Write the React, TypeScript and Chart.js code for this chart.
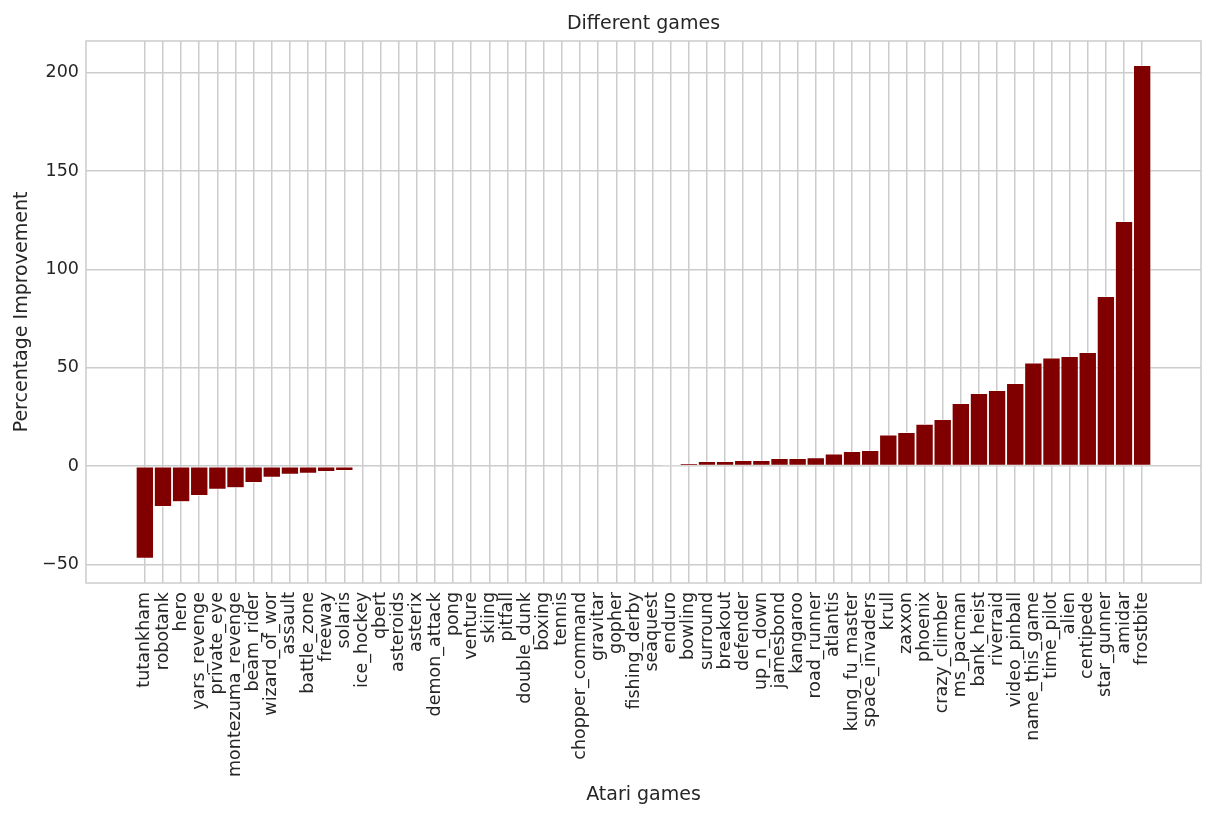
import { useEffect, useRef } from "react";
import { Chart, registerables } from "chart.js";
import type { Plugin } from "chart.js";

Chart.register(...registerables);

const games = [
    "tutankham", "robotank", "hero", "yars_revenge", "private_eye", "montezuma_revenge",
    "beam_rider", "wizard_of_wor", "assault", "battle_zone", "freeway", "solaris",
    "ice_hockey", "qbert", "asteroids", "asterix", "demon_attack", "pong", "venture",
    "skiing", "pitfall", "double_dunk", "boxing", "tennis", "chopper_command", "gravitar",
    "gopher", "fishing_derby", "seaquest", "enduro", "bowling", "surround", "breakout",
    "defender", "up_n_down", "jamesbond", "kangaroo", "road_runner", "atlantis",
    "kung_fu_master", "space_invaders", "krull", "zaxxon", "phoenix", "crazy_climber",
    "ms_pacman", "bank_heist", "riverraid", "video_pinball", "name_this_game", "time_pilot",
    "alien", "centipede", "star_gunner", "amidar", "frostbite",
];

const improvement = [
    -46.9, -20.6, -18.1, -15.0, -11.8, -11.0, -8.4, -5.7, -4.2, -3.7, -2.7, -2.2, -0.6,
    0, 0, 0, 0, 0, 0, 0, 0, 0, 0, 0, 0, 0, 0, 0, 0,
    0.6, 1.4, 2.4, 2.4, 2.9, 2.9, 3.9, 3.9, 4.4, 6.3, 7.5, 8.0, 15.9, 17.2, 21.4, 23.8,
    31.9, 37.0, 38.5, 42.1, 52.5, 55.1, 55.8, 57.8, 86.3, 124.5, 203.8,
];

const yTicks = [-50, 0, 50, 100, 150, 200];
const chartTitle = "Different games";

const textColor = "#262626";
const gridColor = "#cccccc";
const family = "DejaVu Sans";

// light grey box round the plot area (seaborn spines) + title centred on the axes
const frame: Plugin<"bar"> = {
    id: "frame",
    afterDatasetsDraw(chart) {
        const { ctx, chartArea: a } = chart;
        ctx.save();
        ctx.strokeStyle = gridColor;
        ctx.lineWidth = 1.5;
        ctx.strokeRect(a.left, a.top, a.right - a.left, a.bottom - a.top);
        ctx.fillStyle = textColor;
        ctx.font = `19px "${family}"`;
        ctx.textAlign = "center";
        ctx.textBaseline = "alphabetic";
        ctx.fillText(chartTitle, (a.left + a.right) / 2, 28.5);
        ctx.restore();
    },
};

export default function App() {
    const canvasRef = useRef<HTMLCanvasElement | null>(null);
    const chartRef = useRef<Chart | null>(null);

    useEffect(() => {
        document.body.style.margin = "0";
        if (!canvasRef.current) return;

        chartRef.current = new Chart(canvasRef.current, {
            type: "bar",
            data: {
                datasets: [
                    {
                        data: games.map((_, i) => ({ x: i, y: improvement[i] })),
                        backgroundColor: "#800000",
                        borderColor: "#ffffff",
                        borderWidth: 0.6,
                        borderSkipped: false,
                        barPercentage: 0.97,
                        categoryPercentage: 1,
                    },
                ],
            },
            options: {
                responsive: true,
                maintainAspectRatio: false,
                animation: false,
                layout: { padding: { left: 0, right: 15, top: 41, bottom: 0 } },
                plugins: {
                    legend: { display: false },
                    tooltip: { enabled: false },
                    title: { display: false },
                },
                scales: {
                    x: {
                        type: "linear",
                        min: -3.245,
                        max: 58.245,
                        offset: false,
                        grid: { color: gridColor, lineWidth: 1.5, offset: false, drawTicks: false },
                        border: { display: false },
                        afterBuildTicks: (s) => {
                            s.ticks = games.map((_, i) => ({ value: i }));
                        },
                        afterFit: (s) => {
                            s.height = 236;
                        },
                        ticks: {
                            autoSkip: false,
                            maxRotation: 90,
                            minRotation: 90,
                            padding: 9,
                            color: textColor,
                            font: { family, size: 17.5 },
                            callback: (v) => games[Number(v)] ?? "",
                        },
                        title: {
                            display: true,
                            text: "Atari games",
                            color: textColor,
                            font: { family, size: 19 },
                            padding: { top: 4, bottom: 13 },
                        },
                    },
                    y: {
                        min: -59.4,
                        max: 216.2,
                        grid: { color: gridColor, lineWidth: 1.5, drawTicks: false },
                        border: { display: false },
                        afterBuildTicks: (s) => {
                            s.ticks = yTicks.map((v) => ({ value: v }));
                        },
                        afterFit: (s) => {
                            s.width = 86;
                        },
                        ticks: {
                            padding: 7,
                            color: textColor,
                            font: { family, size: 17.5 },
                            callback: (v) => String(v).replace("-", "\u2212"),
                        },
                        title: {
                            display: true,
                            text: "Percentage Improvement",
                            color: textColor,
                            font: { family, size: 19 },
                            padding: { top: 11, bottom: 0 },
                        },
                    },
                },
            },
            plugins: [frame],
        });

        return () => {
            chartRef.current?.destroy();
            chartRef.current = null;
        };
    }, []);

    return (
        <div style={{ width: 1216, height: 819, position: "relative" }}>
            <canvas ref={canvasRef} />
        </div>
    );
}
